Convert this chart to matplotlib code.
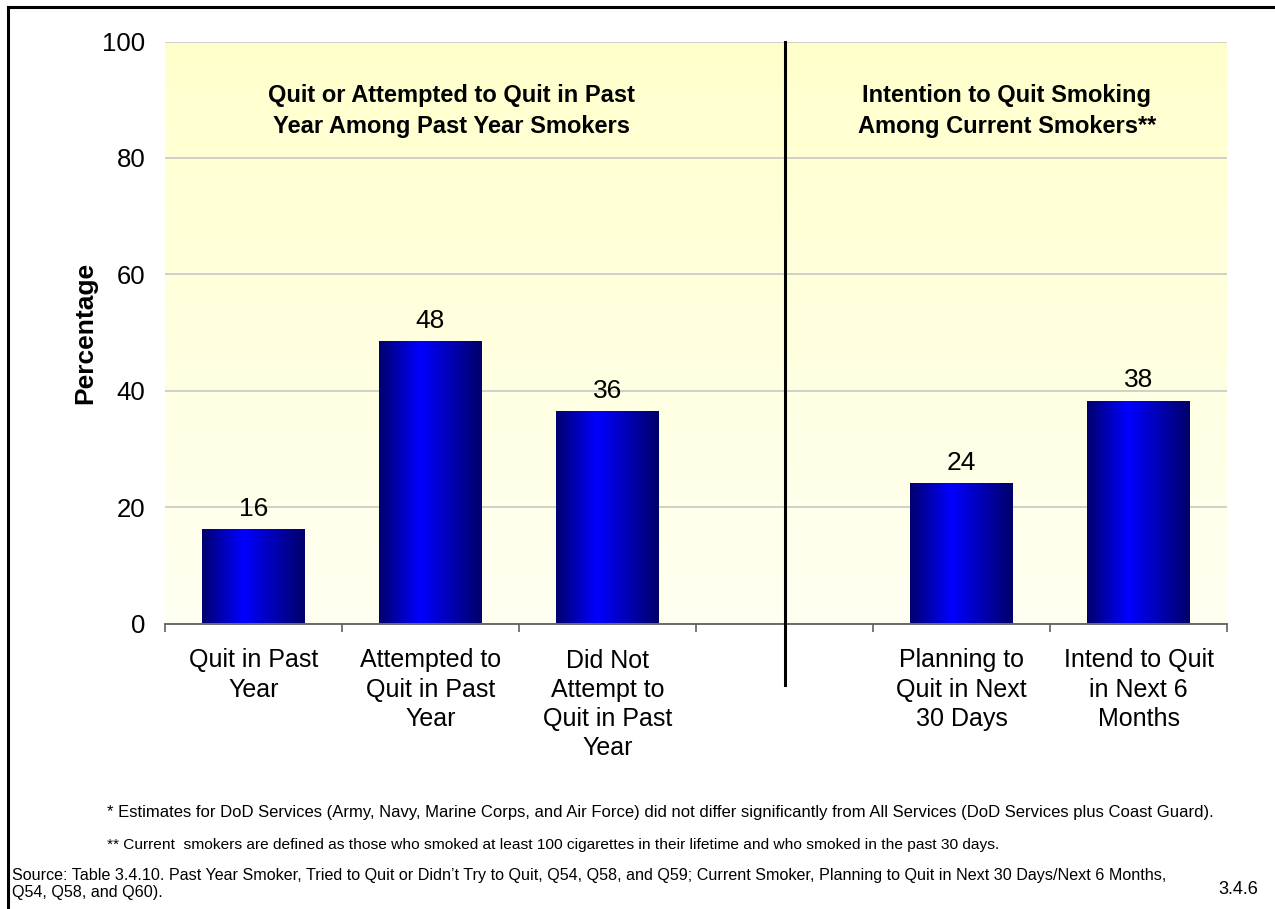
import numpy as np
import matplotlib
matplotlib.use("Agg")
import matplotlib.pyplot as plt
from matplotlib.colors import LinearSegmentedColormap
from matplotlib.lines import Line2D

plt.rcParams["font.family"] = ["Liberation Sans", "DejaVu Sans"]

# 数据
categories = ["Quit in Past\nYear", "Attempted to\nQuit in Past\nYear",
              "Did Not\nAttempt to\nQuit in Past\nYear", "",
              "Planning to\nQuit in Next\n30 Days", "Intend to Quit\nin Next 6\nMonths"]
values = [16, 48.3, 36.3, None, 23.9, 38.1]
value_labels = ["16", "48", "36", "", "24", "38"]
yticks = [0, 20, 40, 60, 80, 100]
header_left = "Quit or Attempted to Quit in Past\nYear Among Past Year Smokers"
header_right = "Intention to Quit Smoking\nAmong Current Smokers**"
note1 = ("* Estimates for DoD Services (Army, Navy, Marine Corps, and Air Force) did not differ "
         "significantly from All Services (DoD Services plus Coast Guard).")
note2 = ("** Current  smokers are defined as those who smoked at least 100 cigarettes in their "
         "lifetime and who smoked in the past 30 days.")
source = ("Source: Table 3.4.10. Past Year Smoker, Tried to Quit or Didn\u2019t Try to Quit, Q54, Q58, "
          "and Q59; Current Smoker, Planning to Quit in Next 30 Days/Next 6 Months,\nQ54, Q58, and Q60).")
page_no = "3.4.6"

W, H = 1275, 909
fig = plt.figure(figsize=(W / 100, H / 100), dpi=100)
ax = fig.add_axes([165 / W, 1 - 623.5 / H, (1227 - 165) / W, (623.5 - 41.5) / H])

x = np.arange(len(categories))

# 背景渐变
bg = LinearSegmentedColormap.from_list("bg", ["#FFFFF2", "#FFFFCC"])
grad = np.linspace(0, 1, 256).reshape(-1, 1)
ax.imshow(grad, cmap=bg, aspect="auto", origin="lower",
          extent=[-0.5, len(categories) - 0.5, 0, 100], zorder=0)

# 网格
ax.set_yticks(yticks)
ax.yaxis.grid(True, color="#C8C8C8", linewidth=1.2, zorder=1)
ax.set_axisbelow(True)

# 柱子 (水平渐变)
bar_cmap = LinearSegmentedColormap.from_list(
    "bar", [(0, "#00006E"), (0.4, "#0000FF"), (1, "#00006A")])
hgrad = np.linspace(0, 1, 256).reshape(1, -1)
bw = 0.58
for i, v in enumerate(values):
    if v is None:
        continue
    ax.bar(x[i], v, width=bw, color="none", zorder=2)
    ax.imshow(hgrad, cmap=bar_cmap, aspect="auto",
              extent=[x[i] - bw / 2, x[i] + bw / 2, 0, v], zorder=2)
    ax.annotate(value_labels[i], (x[i], v), xytext=(0, 7), textcoords="offset points",
                ha="center", va="bottom", fontsize=19)
ax.set_xlim(-0.5, len(categories) - 0.5)
ax.set_ylim(0, 100)

# 分隔线
ax.axvline(3, ymin=-0.105, ymax=1, color="black", linewidth=2.2, clip_on=False, zorder=3)

# 轴
for s in ["left", "right", "top"]:
    ax.spines[s].set_visible(False)
ax.spines["bottom"].set_color("#606060")
ax.spines["bottom"].set_linewidth(1.3)
ax.set_xticks(np.arange(-0.5, len(categories)), minor=False)
ax.set_xticklabels([])
ax.set_xticks(x, minor=True)
ax.set_xticklabels(categories, minor=True, fontsize=18, linespacing=1.27)
ax.tick_params(axis="x", which="major", length=6, width=1.2, color="#606060", direction="out")
ax.tick_params(axis="x", which="minor", length=0, pad=18)
ax.tick_params(axis="y", length=0, labelsize=18.5, pad=14)

ax.set_ylabel("Percentage", fontsize=19, fontweight="bold", labelpad=4)

# 标题
ax.text(1.116, 88.0, header_left, ha="center", va="center", fontsize=17,
        fontweight="bold", linespacing=1.45)
ax.text(4.257, 88.0, header_right, ha="center", va="center", fontsize=17,
        fontweight="bold", linespacing=1.45)

# 脚注
fig.text(107 / W, 1 - 813 / H, note1, ha="left", va="center", fontsize=12.0)
fig.text(107 / W, 1 - 845 / H, note2, ha="left", va="center", fontsize=11.15)
fig.text(12 / W, 1 - 884 / H, source, ha="left", va="center", fontsize=11.6, linespacing=1.2)
fig.text(1258 / W, 1 - 889 / H, page_no, ha="right", va="center", fontsize=13)

# 边框 (左、上)
fig.add_artist(Line2D([8 / W, 8 / W], [0, 1 - 7 / H], color="black", linewidth=2.2,
                      transform=fig.transFigure))
fig.add_artist(Line2D([8 / W, 1], [1 - 7 / H, 1 - 7 / H], color="black", linewidth=2.2,
                      transform=fig.transFigure))

fig.savefig("out.png", dpi=100)
